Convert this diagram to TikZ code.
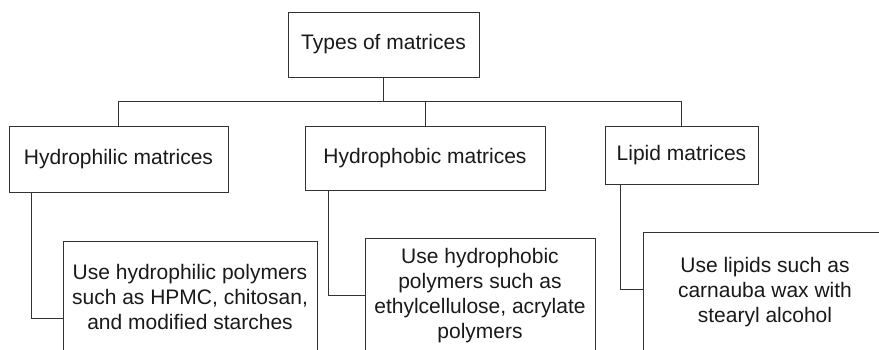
\documentclass[tikz,border=0pt]{standalone}
\usepackage{fontspec}
\setmainfont{Liberation Sans}
\begin{document}
\begin{tikzpicture}[x=1pt,y=-1pt,
  box/.style={draw=black!80,line width=1pt,rectangle,inner sep=0pt,align=center,
    font={\fontsize{21}{25}\selectfont},text=black!90},
  conn/.style={draw=black!80,line width=1pt}]
\useasboundingbox (0,0) rectangle (879,349);
\clip (0,0) rectangle (879,349);
\node[box,minimum width=191pt,minimum height=65pt] (top) at (383.5,44.5) {Types of matrices};
\node[box,minimum width=219pt,minimum height=66pt] (h1) at (118.5,159) {Hydrophilic matrices};
\node[box,minimum width=240pt,minimum height=64pt] (h2) at (425,158) {Hydrophobic matrices};
\node[box,minimum width=153pt,minimum height=58pt] (h3) at (681.5,155) {Lipid matrices};
\node[box,minimum width=254pt,minimum height=112pt] (d1) at (190,297) {Use hydrophilic polymers\\such as HPMC, chitosan,\\and modified starches};
\node[box,minimum width=230pt,minimum height=115pt] (d2) at (480,295.5) {Use hydrophobic\\polymers such as\\ethylcellulose, acrylate\\polymers};
\node[box,minimum width=244pt,minimum height=120pt] (d3) at (765,292) {Use lipids such as\\carnauba wax with\\stearyl alcohol};
\coordinate (bar) at (0,101);
\draw[conn] (top.south) -- (top.south |- bar);
\draw[conn] (h1.north) -- (h1.north |- bar) -- (h3.north |- bar) -- (h3.north);
\draw[conn] (h2.north) -- (h2.north |- bar);
\draw[conn] ([xshift=23pt]h1.south west) |- ([yshift=-21pt]d1.west);
\draw[conn] ([xshift=24pt]h2.south west) |- (d2.west);
\draw[conn] ([xshift=16pt]h3.south west) |- ([yshift=3pt]d3.west);
\end{tikzpicture}
\end{document}
